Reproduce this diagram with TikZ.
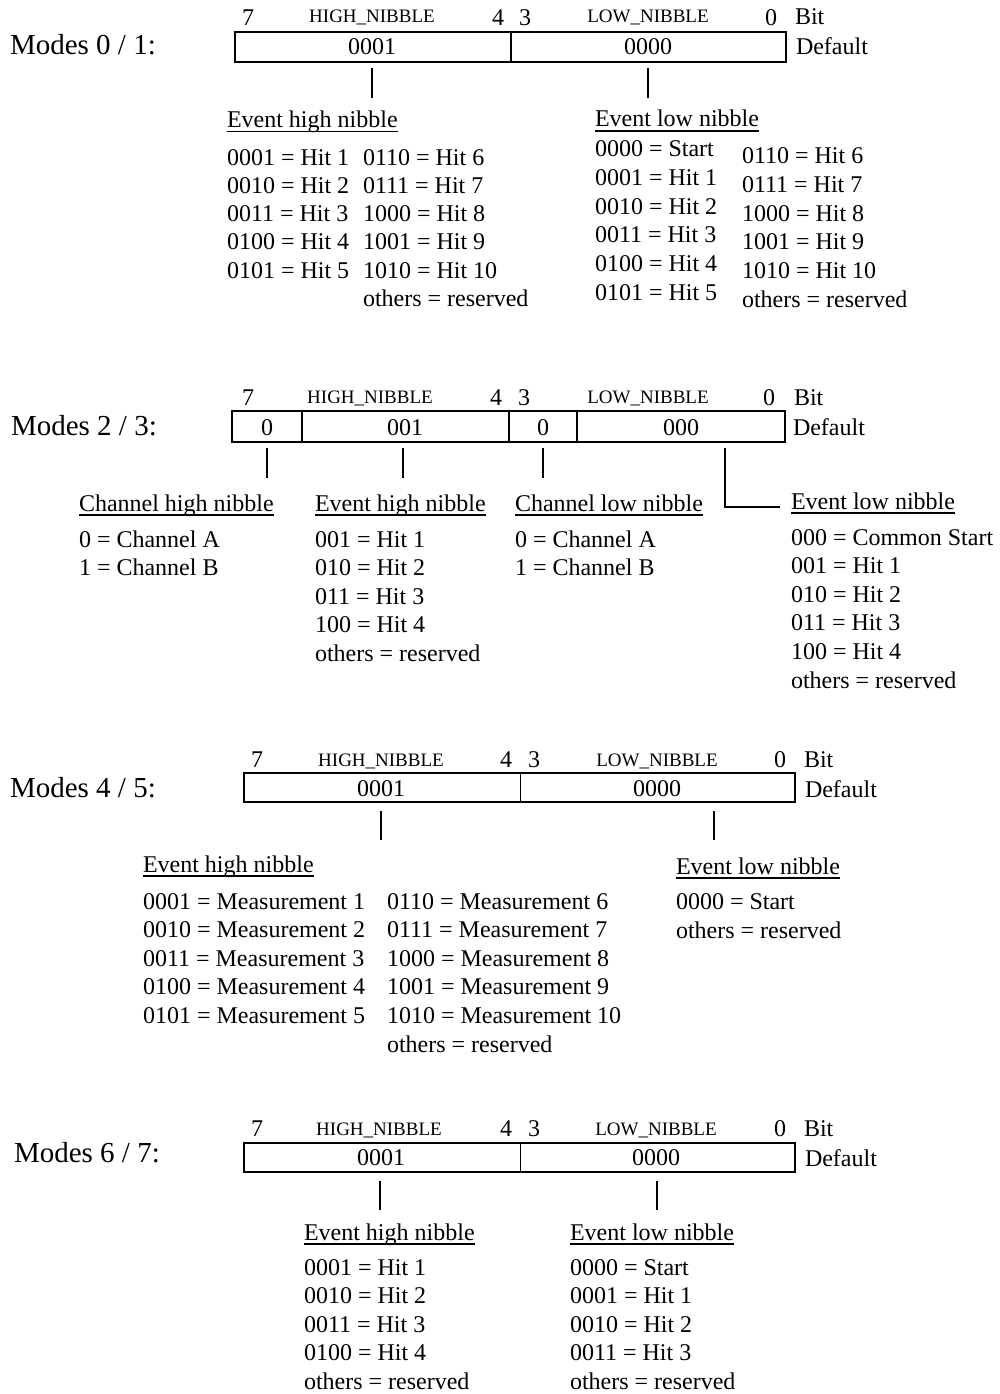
\documentclass[tikz,border=0pt]{standalone}
\usepackage{fontspec}
\setmainfont{Liberation Serif}
% underline drawn through the descenders, at a fixed depth below the baseline
\newcommand\wordul[1]{\setbox0=\hbox{#1}\rlap{\rule[-4.5pt]{\wd0}{1.3pt}}\box0}
\begin{document}
\begin{tikzpicture}[x=1pt,y=-1pt,
  every node/.style={inner sep=0pt,outer sep=0pt},
  body/.style={anchor=base west,font=\fontsize{24}{28}\selectfont},
  mode/.style={anchor=base west,font=\fontsize{29}{34}\selectfont},
  bitno/.style={anchor=base,font=\fontsize{24}{28}\selectfont},
  field/.style={anchor=base,font=\fontsize{19}{22}\selectfont},
  value/.style={anchor=base,font=\fontsize{24}{28}\selectfont},
  frame/.style={line width=1.8pt},
  heavysep/.style={line width=1.8pt},
  lightsep/.style={line width=1pt},
  stub/.style={line width=1.6pt}]
\useasboundingbox (0,0) rectangle (999,1394);

% ---------------- Modes 0 / 1 ----------------
\node[mode] (m01) at (10,55) {Modes 0 / 1:};
\draw[frame] (235,32) rectangle (786,62);
\draw[heavysep] (511,32) -- (511,62);
\node[bitno] (m01b7) at (248,26) {7};
\node[field] (m01hn) at (372,23) {HIGH\_NIBBLE};
\node[bitno] (m01b4) at (498,26) {4};
\node[bitno] (m01b3) at (525,26) {3};
\node[field] (m01ln) at (648,23) {LOW\_NIBBLE};
\node[bitno] (m01b0) at (771,26) {0};
\node[body] (m01bit) at (795,25) {Bit};
\node[body] (m01def) at (796,55) {Default};
\node[value] (m01vh) at (372,55) {0001};
\node[value] (m01vl) at (648,55) {0000};
\coordinate (m01sha) at (372,68); \coordinate (m01shb) at (372,98);
\coordinate (m01sla) at (648,68); \coordinate (m01slb) at (648,98);
\draw[stub] (m01sha) -- (m01shb);
\draw[stub] (m01sla) -- (m01slb);

\node[body] (m01eh) at (227,128) {\wordul{Event high nibble}};
\foreach \t [count=\i from 0] in {0001 = Hit 1,0010 = Hit 2,0011 = Hit 3,0100 = Hit 4,0101 = Hit 5}
  \node[body] (m01ha\i) at (227,165+28.3*\i) {\t};
\foreach \t [count=\i from 0] in {0110 = Hit 6,0111 = Hit 7,1000 = Hit 8,1001 = Hit 9,1010 = Hit 10,others = reserved}
  \node[body] (m01hb\i) at (363,165+28.3*\i) {\t};

\node[body] (m01el) at (595,127) {\wordul{Event low nibble}};
\foreach \t [count=\i from 0] in {0000 = Start,0001 = Hit 1,0010 = Hit 2,0011 = Hit 3,0100 = Hit 4,0101 = Hit 5}
  \node[body] (m01la\i) at (595,157+28.6*\i) {\t};
\foreach \t [count=\i from 0] in {0110 = Hit 6,0111 = Hit 7,1000 = Hit 8,1001 = Hit 9,1010 = Hit 10,others = reserved}
  \node[body] (m01lb\i) at (742,164+28.6*\i) {\t};

% ---------------- Modes 2 / 3 ----------------
\node[mode] (m23) at (11,435) {Modes 2 / 3:};
\draw[frame] (232,411) rectangle (785,442);
\draw[heavysep] (302,411) -- (302,442);
\draw[heavysep] (509,411) -- (509,442);
\draw[heavysep] (577,411) -- (577,442);
\node[bitno] (m23b7) at (248,405) {7};
\node[field] (m23hn) at (370,403) {HIGH\_NIBBLE};
\node[bitno] (m23b4) at (496,405) {4};
\node[bitno] (m23b3) at (524,405) {3};
\node[field] (m23ln) at (648,403) {LOW\_NIBBLE};
\node[bitno] (m23b0) at (769,405) {0};
\node[body] (m23bit) at (794,405) {Bit};
\node[body] (m23def) at (793,435) {Default};
\node[value] (m23v1) at (267,435) {0};
\node[value] (m23v2) at (405,435) {001};
\node[value] (m23v3) at (543,435) {0};
\node[value] (m23v4) at (681,435) {000};
\coordinate (m23s1a) at (267,448); \coordinate (m23s1b) at (267,478);
\coordinate (m23s2a) at (403,448); \coordinate (m23s2b) at (403,478);
\coordinate (m23s3a) at (543,448); \coordinate (m23s3b) at (543,478);
\coordinate (m23s4a) at (725,448); \coordinate (m23s4b) at (780,507);
\draw[stub] (m23s1a) -- (m23s1b);
\draw[stub] (m23s2a) -- (m23s2b);
\draw[stub] (m23s3a) -- (m23s3b);
\draw[stub] (m23s4a) |- (m23s4b);

\node[body] (m23ch) at (79,511) {\wordul{Channel high nibble}};
\node[body] (m23cha) at (79,547) {0 = Channel A};
\node[body] (m23chb) at (79,575) {1 = Channel B};
\node[body] (m23eh) at (315,511) {\wordul{Event high nibble}};
\foreach \t [count=\i from 0] in {001 = Hit 1,010 = Hit 2,011 = Hit 3,100 = Hit 4,others = reserved}
  \node[body] (m23h\i) at (315,547+28.5*\i) {\t};
\node[body] (m23cl) at (515,511) {\wordul{Channel low nibble}};
\node[body] (m23cla) at (515,547) {0 = Channel A};
\node[body] (m23clb) at (515,575) {1 = Channel B};
\node[body] (m23el) at (791,509) {\wordul{Event low nibble}};
\foreach \t [count=\i from 0] in {000 = Common Start,001 = Hit 1,010 = Hit 2,011 = Hit 3,100 = Hit 4,others = reserved}
  \node[body] (m23l\i) at (791,545+28.6*\i) {\t};

% ---------------- Modes 4 / 5 ----------------
\node[mode] (m45) at (10,797) {Modes 4 / 5:};
\draw[frame] (244,773) rectangle (795,802);
\draw[lightsep] (520,773) -- (520,802);
\node[bitno] (m45b7) at (257,767) {7};
\node[field] (m45hn) at (381,766) {HIGH\_NIBBLE};
\node[bitno] (m45b4) at (506,767) {4};
\node[bitno] (m45b3) at (534,767) {3};
\node[field] (m45ln) at (657,766) {LOW\_NIBBLE};
\node[bitno] (m45b0) at (780,767) {0};
\node[body] (m45bit) at (804,767) {Bit};
\node[body] (m45def) at (805,797) {Default};
\node[value] (m45vh) at (381,796) {0001};
\node[value] (m45vl) at (657,796) {0000};
\coordinate (m45sha) at (381,811); \coordinate (m45shb) at (381,840);
\coordinate (m45sla) at (714,811); \coordinate (m45slb) at (714,840);
\draw[stub] (m45sha) -- (m45shb);
\draw[stub] (m45sla) -- (m45slb);

\node[body] (m45eh) at (143,872) {\wordul{Event high nibble}};
\foreach \t [count=\i from 0] in {0001 = Measurement 1,0010 = Measurement 2,0011 = Measurement 3,0100 = Measurement 4,0101 = Measurement 5}
  \node[body] (m45ha\i) at (143,909+28.6*\i) {\t};
\foreach \t [count=\i from 0] in {0110 = Measurement 6,0111 = Measurement 7,1000 = Measurement 8,1001 = Measurement 9,1010 = Measurement 10,others = reserved}
  \node[body] (m45hb\i) at (387,909+28.6*\i) {\t};
\node[body] (m45el) at (676,874) {\wordul{Event low nibble}};
\node[body] (m45l0) at (676,909) {0000 = Start};
\node[body] (m45l1) at (676,938) {others = reserved};

% ---------------- Modes 6 / 7 ----------------
\node[mode] (m67) at (14,1162) {Modes 6 / 7:};
\draw[frame] (244,1143) rectangle (795,1172);
\draw[lightsep] (520,1143) -- (520,1172);
\node[bitno] (m67b7) at (257,1136) {7};
\node[field] (m67hn) at (379,1135) {HIGH\_NIBBLE};
\node[bitno] (m67b4) at (506,1136) {4};
\node[bitno] (m67b3) at (534,1136) {3};
\node[field] (m67ln) at (656,1135) {LOW\_NIBBLE};
\node[bitno] (m67b0) at (780,1136) {0};
\node[body] (m67bit) at (804,1136) {Bit};
\node[body] (m67def) at (805,1166) {Default};
\node[value] (m67vh) at (381,1165) {0001};
\node[value] (m67vl) at (656,1165) {0000};
\coordinate (m67sha) at (380,1181); \coordinate (m67shb) at (380,1210);
\coordinate (m67sla) at (657,1181); \coordinate (m67slb) at (657,1210);
\draw[stub] (m67sha) -- (m67shb);
\draw[stub] (m67sla) -- (m67slb);

\node[body] (m67eh) at (304,1240) {\wordul{Event high nibble}};
\foreach \t [count=\i from 0] in {0001 = Hit 1,0010 = Hit 2,0011 = Hit 3,0100 = Hit 4,others = reserved}
  \node[body] (m67h\i) at (304,1275+28.5*\i) {\t};
\node[body] (m67el) at (570,1240) {\wordul{Event low nibble}};
\foreach \t [count=\i from 0] in {0000 = Start,0001 = Hit 1,0010 = Hit 2,0011 = Hit 3,others = reserved}
  \node[body] (m67l\i) at (570,1275+28.5*\i) {\t};
\end{tikzpicture}
\end{document}
